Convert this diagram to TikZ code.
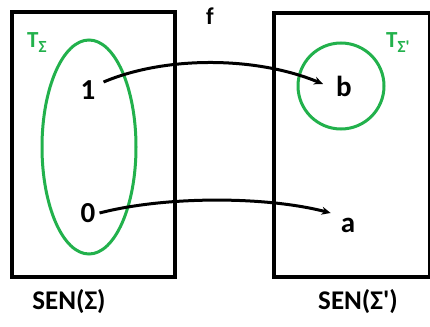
\documentclass[tikz,border=0pt]{standalone}
\usepackage{fontspec}
\setmainfont{Carlito}
\usetikzlibrary{arrows.meta,calc,shapes.geometric}
\definecolor{setgreen}{RGB}{34,177,76}
\begin{document}
\begin{tikzpicture}[x=1pt,y=-1pt,
  frame/.style={draw=black,line width=4pt},
  setline/.style={draw=setgreen,line width=3pt},
  elem/.style={inner sep=0pt,font=\fontsize{29}{29}\selectfont\bfseries},
  capt/.style={inner sep=0pt,font=\fontsize{27}{27}\selectfont\bfseries},
  tlabel/.style={inner sep=0pt,text=setgreen,font=\fontsize{23}{23}\selectfont\bfseries},
  maparrow/.style={line width=3pt,-{Stealth[length=9pt,width=8pt]}}]
\useasboundingbox (0,0) rectangle (430,326);
% boxes
\node[frame,minimum width=163pt,minimum height=265pt,inner sep=0pt] (left) at (93.5,144.5) {};
\node[frame,minimum width=156pt,minimum height=264pt,inner sep=0pt] (right) at (352,145) {};
% sets
\node[setline,ellipse,minimum width=94pt,minimum height=214pt,inner sep=0pt] (tsig) at (89,147) {};
\node[setline,circle,minimum width=86pt,minimum height=86pt,inner sep=0pt] (tsigp) at (341,86) {};
% elements
\node[elem] (one) at (88,90) {1};
\node[elem] (zero) at (88,213) {0};
\node[elem] (b) at (344,86) {b};
\node[elem] (a) at (348,225) {a};
% labels
\node[tlabel,anchor=west] (tl) at (27,43) {T\raisebox{-5pt}{\fontsize{17}{17}\selectfont Σ}};
\node[tlabel,anchor=west] (tr) at (386,43) {T\raisebox{-5pt}{\fontsize{17}{17}\selectfont Σ\textquotesingle}};
\node[inner sep=0pt,font=\fontsize{24}{24}\selectfont\bfseries] (f) at (210,16) {f};
\node[capt] (senl) at (69,302) {SEN(Σ)};
\node[capt] (senr) at (358,302) {SEN(Σ\textquotesingle)};
% mappings
\draw[maparrow] ($(one.east)+(8,-8)$) .. controls (165,56) and (255,56) .. ($(b.west)+(-13,-2)$);
\draw[maparrow] ($(zero.east)+(4,0)$) .. controls (165,196) and (265,196) .. ($(a.west)+(-10,-12)$);
\end{tikzpicture}
\end{document}
